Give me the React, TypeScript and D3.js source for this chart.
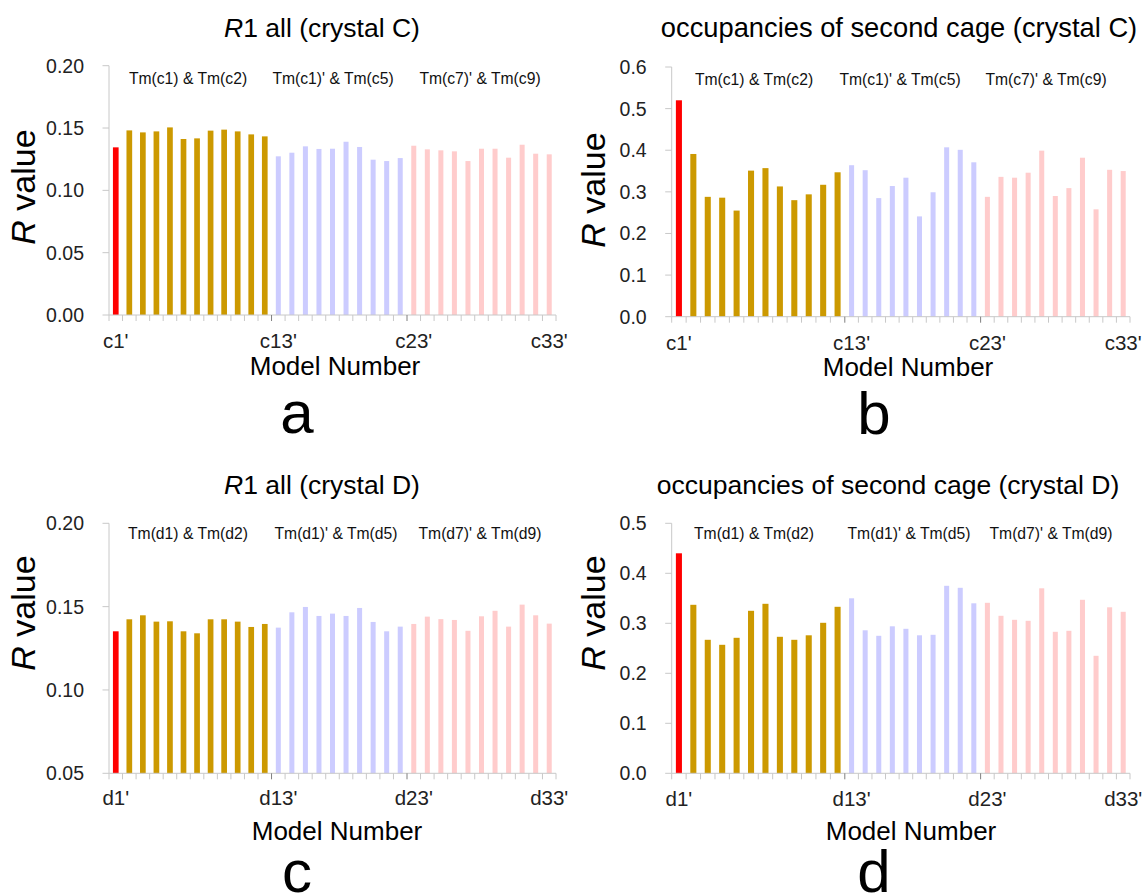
import React from "react";
import * as d3 from "d3";

const MODELS_C = ["c1'","c2'","c3'","c4'","c5'","c6'","c7'","c8'","c9'","c10'","c11'","c12'","c13'","c14'","c15'","c16'","c17'","c18'","c19'","c20'","c21'","c22'","c23'","c24'","c25'","c26'","c27'","c28'","c29'","c30'","c31'","c32'","c33'"];
const MODELS_D = ["d1'","d2'","d3'","d4'","d5'","d6'","d7'","d8'","d9'","d10'","d11'","d12'","d13'","d14'","d15'","d16'","d17'","d18'","d19'","d20'","d21'","d22'","d23'","d24'","d25'","d26'","d27'","d28'","d29'","d30'","d31'","d32'","d33'"];
const GROUP_OF_MODEL = [0,1,1,1,1,1,1,1,1,1,1,1,2,2,2,2,2,2,2,2,2,2,3,3,3,3,3,3,3,3,3,3,3];
const GROUP_COLORS = ["#FF0000", "#CC9900", "#CCCCFF", "#FFCCCC"];

const R1_C = [0.1345,0.1481,0.1465,0.1473,0.1505,0.1412,0.1417,0.1479,0.1487,0.1473,0.1449,0.1433,0.1273,0.1302,0.1353,0.1332,0.1334,0.1390,0.1348,0.1246,0.1235,0.1259,0.1358,0.1329,0.1321,0.1313,0.1235,0.1334,0.1334,0.1262,0.1366,0.1294,0.1289];
const OCC_C = [0.520,0.391,0.288,0.286,0.255,0.351,0.357,0.313,0.280,0.294,0.317,0.347,0.364,0.352,0.285,0.314,0.334,0.241,0.299,0.407,0.401,0.371,0.288,0.336,0.334,0.346,0.399,0.290,0.309,0.382,0.258,0.353,0.350];
const R1_D = [0.1352,0.1424,0.1448,0.1410,0.1412,0.1352,0.1340,0.1424,0.1424,0.1410,0.1378,0.1396,0.1374,0.1466,0.1498,0.1444,0.1458,0.1444,0.1492,0.1408,0.1352,0.1380,0.1396,0.1440,0.1425,0.1420,0.1355,0.1442,0.1475,0.1380,0.1512,0.1448,0.1398];
const OCC_D = [0.440,0.337,0.267,0.257,0.271,0.325,0.339,0.273,0.267,0.276,0.301,0.333,0.350,0.286,0.275,0.294,0.289,0.276,0.277,0.375,0.371,0.340,0.341,0.315,0.307,0.305,0.370,0.283,0.285,0.347,0.235,0.332,0.323];

const TICK_LABEL_INDEX = [0, 12, 22, 32];
const SPECIAL_TICK_INDEX = [12, 22];
const GROUP_LABELS_C = ["Tm(c1) & Tm(c2)", "Tm(c1)' & Tm(c5)", "Tm(c7)' & Tm(c9)"];
const GROUP_LABELS_D = ["Tm(d1) & Tm(d2)", "Tm(d1)' & Tm(d5)", "Tm(d7)' & Tm(d9)"];
const Y_TICKS_R1_C = [0, 0.05, 0.1, 0.15, 0.2];
const Y_TICKS_OCC_C = [0, 0.1, 0.2, 0.3, 0.4, 0.5, 0.6];
const Y_TICKS_R1_D = [0.05, 0.1, 0.15, 0.2];
const Y_TICKS_OCC_D = [0, 0.1, 0.2, 0.3, 0.4, 0.5];

const FONT = "'Liberation Sans', Arial, sans-serif";

type PanelCfg = {
  models: string[];
  values: number[];
  yTicks: number[];
  yFormat: string;
  xDomain: number[];
  xRange: number[];
  yRange: [number, number];
  titleItalic: string;
  titleRest: string;
  titleX: number;
  titleY: number;
  titleSize: number;
  groupLabels: string[];
  groupLabelX: number[];
  groupLabelY: number;
  yLabelX: number;
  yLabelY: number;
  xLabelX: number;
  xLabelY: number;
  tickLabelY: number;
  letter: string;
  letterX: number;
  letterY: number;
};

function Panel({ cfg }: { cfg: PanelCfg }) {
  const x = d3.scaleLinear().domain(cfg.xDomain).range(cfg.xRange);
  const yMin = cfg.yTicks[0];
  const yMax = cfg.yTicks[cfg.yTicks.length - 1];
  const y = d3.scaleLinear().domain([yMin, yMax]).range(cfg.yRange);
  const fmt = d3.format(cfg.yFormat);
  const x0 = x(0);
  const xEnd = x(cfg.models.length);
  const y0 = y(yMin);
  const boundaries = d3.range(cfg.models.length + 1);
  return (
    <g fontFamily={FONT}>
      <text x={cfg.titleX} y={cfg.titleY} fontSize={cfg.titleSize} textAnchor="middle" fill="#000">
        {cfg.titleItalic ? <tspan fontStyle="italic">{cfg.titleItalic}</tspan> : null}
        {cfg.titleRest}
      </text>
      {/* y axis */}
      <line x1={x0} x2={x0} y1={y(yMax)} y2={y0} stroke="#C8C8C8" strokeWidth={1} />
      {cfg.yTicks.map((t) => (
        <g key={"yt" + t}>
          <line x1={x0 - 6.5} x2={x0} y1={y(t)} y2={y(t)} stroke="#C8C8C8" strokeWidth={1} />
          <text x={x0 - 25} y={y(t)} dy="0.36em" fontSize={19.5} textAnchor="end" fill="#222">
            {fmt(t)}
          </text>
        </g>
      ))}
      {/* bars */}
      {cfg.values.map((v, i) => {
        const g = GROUP_OF_MODEL[i];
        const band = x(i + 1) - x(i);
        const w = band * (g <= 1 ? 0.42 : 0.37);
        const cx = x(i + 0.5);
        return (
          <rect key={"b" + i} x={cx - w / 2} y={y(v)} width={w} height={y0 - y(v)} fill={GROUP_COLORS[g]} />
        );
      })}
      {/* x axis */}
      <line x1={x0} x2={xEnd} y1={y0} y2={y0} stroke="#C8C8C8" strokeWidth={1} />
      {boundaries.map((b) => (
        <line
          key={"xt" + b}
          x1={x(b)}
          x2={x(b)}
          y1={y0}
          y2={y0 + 6}
          stroke={SPECIAL_TICK_INDEX.includes(b) ? "#7F7F7F" : "#C8C8C8"}
          strokeWidth={1}
        />
      ))}
      {TICK_LABEL_INDEX.map((i) => (
        <text key={"xl" + i} x={x(i + 0.5)} y={cfg.tickLabelY} fontSize={20.5} textAnchor="middle" fill="#222">
          {cfg.models[i]}
        </text>
      ))}
      {cfg.groupLabels.map((l, k) => (
        <text key={"gl" + k} x={cfg.groupLabelX[k]} y={cfg.groupLabelY} fontSize={15.7} textAnchor="middle" fill="#111">
          {l}
        </text>
      ))}
      <text
        transform={`translate(${cfg.yLabelX},${cfg.yLabelY}) rotate(-90)`}
        fontSize={34}
        textAnchor="middle"
        fill="#000"
      >
        <tspan fontStyle="italic">R</tspan> value
      </text>
      <text x={cfg.xLabelX} y={cfg.xLabelY} fontSize={26} textAnchor="middle" fill="#000">
        Model Number
      </text>
      <text x={cfg.letterX} y={cfg.letterY} fontSize={60} textAnchor="middle" fill="#000">
        {cfg.letter}
      </text>
    </g>
  );
}

const LEFT_X_DOMAIN = [0, 33];
const LEFT_X_RANGE = [109, 556];
const RIGHT_X_DOMAIN = [0, 12, 33];
const RIGHT_X_RANGE = [671.7, 844.8, 1130];

const PANELS: PanelCfg[] = [
  {
    models: MODELS_C, values: R1_C, yTicks: Y_TICKS_R1_C, yFormat: ".2f",
    xDomain: LEFT_X_DOMAIN, xRange: LEFT_X_RANGE, yRange: [315, 65.7],
    titleItalic: "R", titleRest: "1 all (crystal C)", titleX: 322, titleY: 37, titleSize: 26.5,
    groupLabels: GROUP_LABELS_C, groupLabelX: [188, 333, 480], groupLabelY: 84,
    yLabelX: 35, yLabelY: 187, xLabelX: 335, xLabelY: 375, tickLabelY: 348,
    letter: "a", letterX: 297, letterY: 433,
  },
  {
    models: MODELS_C, values: OCC_C, yTicks: Y_TICKS_OCC_C, yFormat: ".1f",
    xDomain: RIGHT_X_DOMAIN, xRange: RIGHT_X_RANGE, yRange: [316.7, 67],
    titleItalic: "", titleRest: "occupancies of second cage (crystal C)", titleX: 899, titleY: 37, titleSize: 27.3,
    groupLabels: GROUP_LABELS_C, groupLabelX: [754, 900, 1046], groupLabelY: 85,
    yLabelX: 605, yLabelY: 190, xLabelX: 908, xLabelY: 376, tickLabelY: 350,
    letter: "b", letterX: 874, letterY: 434,
  },
  {
    models: MODELS_D, values: R1_D, yTicks: Y_TICKS_R1_D, yFormat: ".2f",
    xDomain: LEFT_X_DOMAIN, xRange: LEFT_X_RANGE, yRange: [773.3, 523.3],
    titleItalic: "R", titleRest: "1 all (crystal D)", titleX: 322, titleY: 494, titleSize: 26.5,
    groupLabels: GROUP_LABELS_D, groupLabelX: [188, 336, 480], groupLabelY: 539,
    yLabelX: 35, yLabelY: 613, xLabelX: 337, xLabelY: 840, tickLabelY: 805,
    letter: "c", letterX: 297, letterY: 892,
  },
  {
    models: MODELS_D, values: OCC_D, yTicks: Y_TICKS_OCC_D, yFormat: ".1f",
    xDomain: RIGHT_X_DOMAIN, xRange: RIGHT_X_RANGE, yRange: [773.3, 523.3],
    titleItalic: "", titleRest: "occupancies of second cage (crystal D)", titleX: 888, titleY: 494, titleSize: 26.5,
    groupLabels: GROUP_LABELS_D, groupLabelX: [754, 909, 1051], groupLabelY: 539,
    yLabelX: 605, yLabelY: 613, xLabelX: 911, xLabelY: 840, tickLabelY: 806,
    letter: "d", letterX: 874, letterY: 892,
  },
];

export default function App() {
  return (
    <svg
      width={1146}
      height={895}
      viewBox="0 0 1146 895"
      style={{ position: "absolute", left: 0, top: 0, background: "#fff" }}
    >
      <rect x={0} y={0} width={1146} height={895} fill="#fff" />
      {PANELS.map((p, i) => (
        <Panel key={i} cfg={p} />
      ))}
    </svg>
  );
}
